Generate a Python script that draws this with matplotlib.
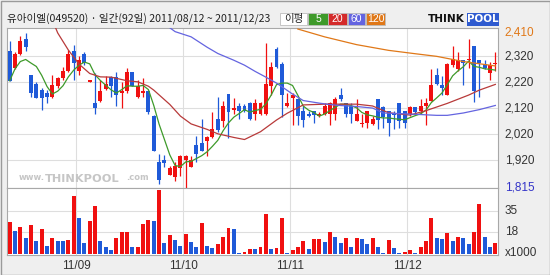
import matplotlib
matplotlib.use('Agg')
import matplotlib.pyplot as plt
from matplotlib.patches import Rectangle
import pandas as pd

# ---------------- data ----------------
title = "유아이엘(049520) · 일간(92일) 2011/08/12 ~ 2011/12/23"

opens = [2340, 2275, 2330, 2385, 2250, 2215, 2190, 2180, 2165, 2205,
         2235, 2265, 2340, 2265, 2330, 2220, 2140, 2150, 2195, 2240,
         2240, 2180, 2185, 2260, 2165, 2180, 2185, 2090, 1915, 1920,
         1865, 1855, 1890, 1920, 1895, 1980, 1985, 1995, 2010, 2080,
         2070, 2175, 2115, 2130, 2130, 2140, 2100, 2100, 2100, 2205,
         2350, 2290, 2130, 2160, 2155, 2110, 2100, 2110, 2090, 2100,
         2100, 2100, 2170, 2140, 2130, 2070, 2060, 2065, 2060, 2155,
         2125, 2110, 2100, 2140, 2110, 2100, 2125, 2110, 2130, 2150,
         2250, 2210, 2170, 2285, 2270, 2305, 2305, 2360, 2305, 2290,
         2255, 2290]
highs = [2380, 2335, 2400, 2410, 2250, 2220, 2200, 2190, 2250, 2240,
         2280, 2345, 2365, 2320, 2335, 2230, 2255, 2230, 2245, 2245,
         2260, 2220, 2275, 2260, 2230, 2235, 2190, 2095, 1945, 1940,
         1900, 1915, 1940, 1940, 1935, 2015, 2080, 2015, 2105, 2165,
         2150, 2175, 2160, 2140, 2135, 2145, 2155, 2145, 2370, 2300,
         2355, 2300, 2180, 2180, 2160, 2130, 2110, 2110, 2105, 2140,
         2145, 2165, 2200, 2140, 2140, 2155, 2100, 2110, 2090, 2155,
         2130, 2110, 2110, 2140, 2110, 2130, 2125, 2155, 2160, 2270,
         2275, 2245, 2295, 2360, 2335, 2305, 2385, 2360, 2305, 2305,
         2300, 2335]
lows = [2225, 2270, 2325, 2340, 2165, 2160, 2115, 2140, 2160, 2200,
        2230, 2260, 2230, 2250, 2285, 2220, 2100, 2145, 2190, 2165,
        2130, 2120, 2180, 2205, 2160, 2165, 2100, 1955, 1830, 1895,
        1865, 1840, 1860, 1815, 1895, 1915, 1955, 1935, 2005, 2030,
        2050, 2005, 2100, 2080, 2105, 2075, 2075, 2095, 2095, 2170,
        2275, 2085, 2125, 2055, 2055, 2050, 2085, 2065, 2085, 2095,
        2055, 2075, 2150, 2085, 2065, 2070, 2050, 2045, 2055, 2040,
        2045, 2015, 2040, 2045, 2045, 2090, 2100, 2100, 2055, 2150,
        2210, 2170, 2170, 2280, 2265, 2210, 2275, 2145, 2165, 2270,
        2230, 2265]
closes = [2225, 2330, 2380, 2355, 2180, 2160, 2160, 2165, 2210, 2235,
          2265, 2330, 2295, 2305, 2295, 2230, 2120, 2185, 2215, 2205,
          2170, 2185, 2260, 2205, 2205, 2185, 2105, 1955, 1845, 1910,
          1890, 1900, 1935, 1935, 1920, 1945, 1955, 2010, 2040, 2035,
          2130, 2105, 2120, 2110, 2110, 2080, 2140, 2140, 2215, 2280,
          2280, 2170, 2140, 2170, 2090, 2075, 2090, 2095, 2100, 2130,
          2140, 2155, 2155, 2100, 2100, 2100, 2065, 2110, 2080, 2075,
          2085, 2065, 2095, 2070, 2065, 2125, 2105, 2130, 2140, 2210,
          2215, 2200, 2290, 2310, 2305, 2295, 2310, 2185, 2295, 2275,
          2285, 2295]
volumes = [26.4, 19.1, 21.8, 13.5, 23.7, 10.8, 20.4, 7.0, 13.5, 10.8,
           10.6, 11.6, 47.1, 29.1, 9.4, 26.9, 39.3, 10.8, 6.2, 3.5,
           12.9, 17.8, 17.9, 5.7, 6.2, 24.5, 27.7, 26.9, 52.0, 9.4,
           15.6, 11.6, 7.0, 16.4, 10.2, 5.7, 25.0, 7.0, 4.9, 8.6,
           14.3, 21.3, 20.4, 1.4, 2.2, 4.3, 4.2, 5.7, 32.3, 4.3,
           4.9, 29.1, 1.4, 3.2, 6.2, 10.8, 4.1, 12.1, 12.2, 10.0,
           17.8, 14.3, 9.4, 12.9, 5.7, 12.9, 12.7, 8.4, 13.5, 5.7,
           0.8, 11.6, 4.9, 1.4, 1.5, 3.5, 1.4, 6.2, 10.8, 29.1,
           13.5, 12.1, 17.2, 10.8, 14.3, 13.5, 8.4, 17.8, 40.6, 14.3,
           5.7, 9.4]

ma5_first = [2226, 2272, 2300, 2308]   # (needs earlier days)
ma20_idx = [8, 9, 11, 13, 15, 17, 19, 22, 24, 26, 27, 30, 32, 34, 37, 39,
            42, 44, 47, 50, 52, 55, 59, 65, 68, 71, 75, 78, 82, 86, 88, 91]
ma20_val = [2460, 2410, 2344, 2290, 2254, 2241, 2240, 2226, 2222, 2205, 2190,
            2135, 2090, 2060, 2039, 2022, 2008, 2000, 2030, 2075, 2101, 2133,
            2136, 2136, 2129, 2103, 2094, 2111, 2139, 2171, 2190, 2212]
ma60_idx = [30, 31, 34, 37, 39, 42, 44, 46, 48, 50, 53, 55, 58, 61, 65, 68,
            70, 75, 80, 82, 85, 88, 91]
ma60_val = [2430, 2415, 2395, 2355, 2331, 2305, 2286, 2262, 2240, 2217, 2175,
            2150, 2140, 2132, 2127, 2121, 2102, 2098, 2093, 2093, 2102, 2115,
            2131]
ma120_idx = [54, 59, 65, 71, 76, 80, 85, 91]
ma120_val = [2425, 2395, 2365, 2343, 2330, 2320, 2300, 2283]

price_ticks = [2410, 2320, 2220, 2120, 2020, 1920, 1815]
grid_prices = [2320, 2220, 2120, 2020, 1920]
vol_ticks = [35, 18]
month_labels = ['11/09', '11/10', '11/11', '11/12']
month_start_idx = [13, 33, 53, 75]
legend_items = ['5', '20', '60', '120']

# ---------------- style ----------------
RED = '#f01010'
BLUE = '#1f5ad8'
C5, C20, C60, C120 = '#3e9a2a', '#b83a3a', '#6464e0', '#e07818'
GRID = '#dedede'
BORDER = '#a8a8a8'
NUMFONT = ['Liberation Sans Narrow', 'Liberation Sans', 'DejaVu Sans']

W, H = 550, 275
def fx(x):
    return x / W
def fy(y):
    return 1 - y / H

fig = plt.figure(figsize=(5.5, 2.75), dpi=100, facecolor='#efefef')
fig.patches.append(Rectangle((fx(0.5), fy(274.5)), fx(549), 274 / H,
                             transform=fig.transFigure, fill=False,
                             edgecolor='#9a9a9a', lw=1.0))

ax = fig.add_axes([fx(7), fy(188), fx(498) - fx(7), (188 - 28) / H])
axv = fig.add_axes([fx(7), fy(255), fx(498) - fx(7), (255 - 188) / H])

n = len(closes)
for a in (ax, axv):
    a.set_facecolor('white')
    a.set_xlim(-0.5, n - 0.5)
    a.set_xticks([])
    a.set_yticks([])
    for s in a.spines.values():
        s.set_color(BORDER)
        s.set_linewidth(0.8)
    for m in month_start_idx:
        a.axvline(m - 0.5, color=GRID, lw=0.8, zorder=0)

ax.set_ylim(1813.5, 2429)
for g in grid_prices:
    ax.axhline(g, color=GRID, lw=0.8, zorder=0)

axv.set_ylim(-0.55, 53.5)
for g in vol_ticks:
    axv.axhline(g, color=GRID, lw=0.8, zorder=0)

# watermark  (www.THINKPOOL.com)
wm = '#c6c6c6'
ax.text(12 / 491, 0.04, 'www.', transform=ax.transAxes, color=wm,
        fontsize=6.0, fontweight='bold', ha='left', va='bottom', zorder=1,
        family='DejaVu Sans')
ax.text(38 / 491, 0.025, 'THINKPOOL', transform=ax.transAxes, color=wm,
        fontsize=8.2, fontweight='bold', ha='left', va='bottom', zorder=1,
        family='DejaVu Sans')
ax.text(119 / 491, 0.04, '.com', transform=ax.transAxes, color=wm,
        fontsize=6.0, fontweight='bold', ha='left', va='bottom', zorder=1,
        family='DejaVu Sans')

# candles
for i in range(n):
    o, h, l, c = opens[i], highs[i], lows[i], closes[i]
    col = RED if c >= o else BLUE
    ax.vlines(i, l, h, color=col, lw=0.9, zorder=3)
    bot = min(o, c)
    hgt = max(abs(c - o), 4)
    ax.bar(i, hgt, bottom=bot, width=0.74, color=col, lw=0, zorder=4)

# moving averages
ma5 = pd.Series(closes).rolling(5).mean().tolist()
ma5[:4] = ma5_first
ax.plot(range(n), ma5, color=C5, lw=0.9, zorder=5)
ax.plot(ma20_idx, ma20_val, color=C20, lw=0.9, zorder=5)
ax.plot(ma60_idx, ma60_val, color=C60, lw=0.9, zorder=5)
ax.plot(ma120_idx, ma120_val, color=C120, lw=0.9, zorder=5)

# volume bars: red when volume rises vs previous day, blue otherwise
for i in range(n):
    col = RED if (i == 0 or volumes[i] >= volumes[i - 1]) else BLUE
    axv.bar(i, volumes[i], width=0.74, color=col, lw=0, zorder=3)

# right-side labels
ytr = ax.get_yaxis_transform()
for k, v in enumerate(price_ticks):
    col = '#333333'
    if k == 0:
        col = C120
    elif k == len(price_ticks) - 1:
        col = '#3434c8'
    ax.text(1.014, v, f"{v:,}", transform=ytr, color=col, fontsize=8.5,
            family=NUMFONT, ha='left', va='center', clip_on=False)
vtr = axv.get_yaxis_transform()
for v in vol_ticks:
    axv.text(1.014, v, str(v), transform=vtr, color='#333333', fontsize=8.5,
             family=NUMFONT, ha='left', va='center', clip_on=False)
axv.text(1.014, 1.0, 'x1000', transform=vtr, color='#333333', fontsize=8.5,
         family=NUMFONT, ha='left', va='center', clip_on=False)

# month labels
xtr = axv.get_xaxis_transform()
for lab, m in zip(month_labels, month_start_idx):
    axv.text(m - 0.5, -0.17, lab, transform=xtr, color='#333333',
             fontsize=8.5, family=NUMFONT, ha='center', va='center',
             clip_on=False)

# title
fig.text(fx(7), fy(18), title, fontsize=7.6, color='#222222',
         family=['Noto Sans CJK KR', 'DejaVu Sans'], ha='left', va='center')

# legend boxes
lx = [(280, 307, 'white', '이평', '#222222'),
      (308, 328, C5, legend_items[0], 'white'),
      (328, 347, '#d42a2a', legend_items[1], 'white'),
      (348, 365, C60, legend_items[2], 'white'),
      (366, 385, C120, legend_items[3], 'white')]
for x0, x1, fc, lab, tc in lx:
    fig.patches.append(Rectangle((fx(x0), fy(25)), fx(x1 - x0), 12 / H,
                                 transform=fig.transFigure, facecolor=fc,
                                 edgecolor='#bdbdbd', lw=0.6))
    fam = ['Noto Sans CJK KR', 'DejaVu Sans'] if lab == '이평' else NUMFONT
    fig.text(fx((x0 + x1) / 2), fy(19), lab, color=tc, fontsize=7.5,
             family=fam, ha='center', va='center')

# logo
fig.text(fx(446), fy(19.5), 'THINK', fontsize=7.6, fontweight='bold',
         color='#111111', family='DejaVu Sans', ha='center', va='center')
fig.patches.append(Rectangle((fx(467), fy(26)), fx(32), 13 / H,
                             transform=fig.transFigure, facecolor='#2f5bd0',
                             edgecolor='none'))
fig.text(fx(483), fy(19.5), 'POOL', fontsize=7.4, fontweight='bold',
         color='white', family='DejaVu Sans', ha='center', va='center')

fig.savefig('out.png', dpi=100, facecolor=fig.get_facecolor())
